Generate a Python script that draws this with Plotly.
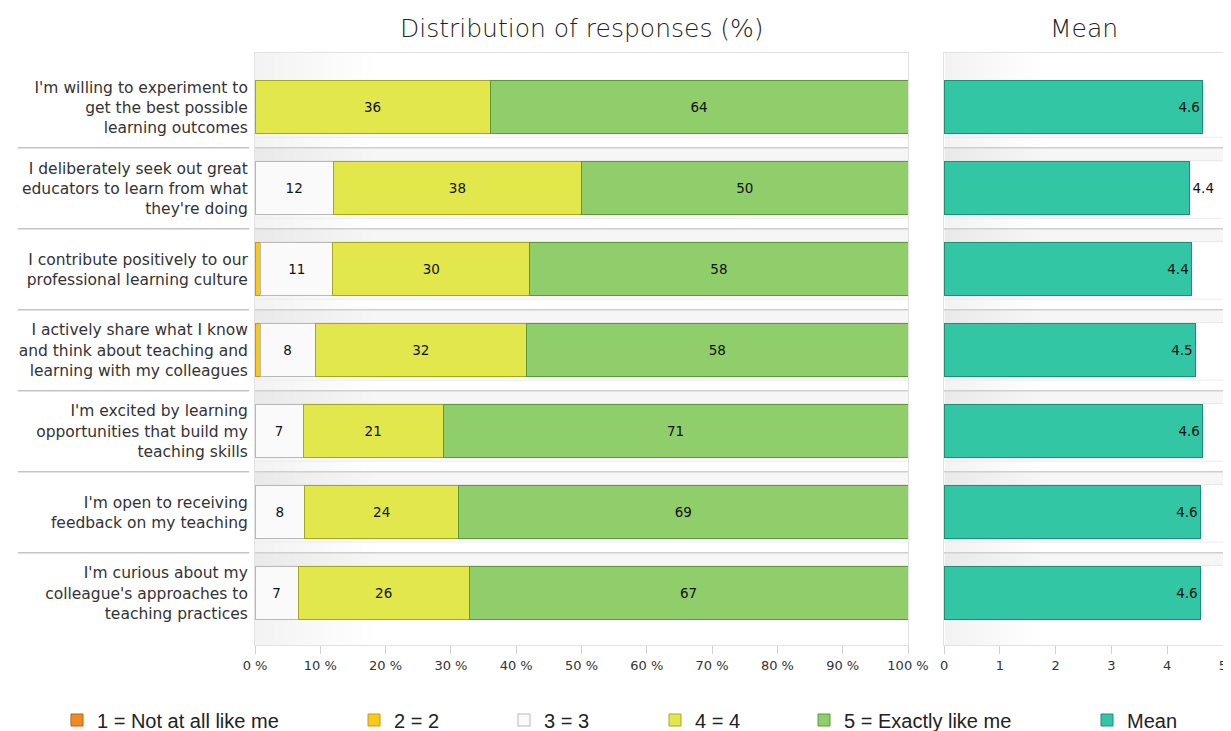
import plotly.graph_objects as go

categories = [
    "I'm willing to experiment to<br>get the best possible<br>learning outcomes",
    "I deliberately seek out great<br>educators to learn from what<br>they're doing",
    "I contribute positively to our<br>professional learning culture",
    "I actively share what I know<br>and think about teaching and<br>learning with my colleagues",
    "I'm excited by learning<br>opportunities that build my<br>teaching skills",
    "I'm open to receiving<br>feedback on my teaching",
    "I'm curious about my<br>colleague's approaches to<br>teaching practices",
]
p1 = [0, 0, 0, 0, 0, 0, 0]
p2 = [0, 0, 0.9, 0.8, 0, 0, 0]
p3 = [0, 12, 11, 8.4, 7.4, 7.6, 6.6]
p4 = [36, 38, 30.2, 32.4, 21.4, 23.6, 26.2]
p5 = [64, 50, 57.9, 58.4, 71.2, 68.8, 67.2]
means = [4.64, 4.40, 4.44, 4.51, 4.64, 4.60, 4.60]
series_names = ["1 = Not at all like me", "2 = 2", "3 = 3", "4 = 4", "5 = Exactly like me"]
x_ticks = [0, 10, 20, 30, 40, 50, 60, 70, 80, 90, 100]
mean_ticks = [0, 1, 2, 3, 4, 5]

fills = ["#f08a24", "#f8c81c", "#fafafa", "#e2e84c", "#8fce6a"]
lines = ["#b8601a", "#c89a10", "#b8b8b8", "#a4a820", "#5a9a3a"]
mean_fill = "#33c6a4"
mean_line = "#1d8f72"

FONT = "DejaVu Sans"
LFONT = "Liberation Sans"
ypos = list(range(len(categories)))

# page body adds an 8px margin at left/top; the figure fills the rest of the 1231x731 view
W, H = 1223, 723
ML, MR, MT, MB = 247, 8, 45, 86
PW = W - ML - MR
PH = H - MT - MB

legend_px = [49, 346, 496, 647, 796, 1079]  # left edge of each legend box (figure px)
legend_names = ["legend", "legend2", "legend3", "legend4", "legend5", "legend6"]

fig = go.Figure()
for k, (name, vals, fc, lc) in enumerate(zip(series_names, [p1, p2, p3, p4, p5], fills, lines)):
    show_text = k >= 2
    fig.add_trace(go.Bar(
        name=name, y=ypos, x=vals, orientation="h",
        marker=dict(color=fc, line=dict(color=lc, width=1)),
        width=0.65,
        text=[f"{v:.0f}" if v > 0 else "" for v in vals] if show_text else None,
        textposition="inside" if show_text else "none",
        insidetextanchor="middle",
        textfont=dict(color="#111111", size=13.5, family=FONT),
        xaxis="x", yaxis="y", legend=legend_names[k],
    ))

mean_pos = ["outside" if m < 4.42 else "inside" for m in means]
fig.add_trace(go.Bar(
    name="Mean", y=ypos, x=means, orientation="h",
    marker=dict(color=mean_fill, line=dict(color=mean_line, width=1)),
    width=0.65,
    text=[f"{m:.1f}" for m in means],
    textposition=mean_pos, insidetextanchor="end",
    textfont=dict(color="#111111", size=13.5, family=FONT),
    cliponaxis=False,
    xaxis="x2", yaxis="y2", legend=legend_names[5],
))

shapes = []
for dom, width in [("x domain", 0.18), ("x2 domain", 0.35)]:
    for k in range(1, 13):
        shapes.append(dict(type="rect", xref=dom, yref="paper", x0=0, x1=width * k / 12,
                           y0=0, y1=1, fillcolor="rgba(0,0,0,0.004)", line=dict(width=0),
                           layer="below"))
for i in range(len(categories) - 1):
    yb = i + 0.5
    for dom, yax in [("x domain", "y"), ("x2 domain", "y2")]:
        shapes.append(dict(type="rect", xref=dom, yref=yax, x0=0, x1=1, y0=yb, y1=yb + 0.16,
                           fillcolor="rgba(0,0,0,0.035)", line=dict(width=0), layer="below"))
        shapes.append(dict(type="line", xref=dom, yref=yax, x0=0, x1=1, y0=yb + 0.16, y1=yb + 0.16,
                           line=dict(color="#e6e6e6", width=1), layer="below"))
        shapes.append(dict(type="line", xref=dom, yref=yax, x0=0, x1=1, y0=yb - 0.13, y1=yb - 0.13,
                           line=dict(color="#ececec", width=1), layer="below"))
        shapes.append(dict(type="line", xref=dom, yref=yax, x0=0, x1=1, y0=yb, y1=yb,
                           line=dict(color="#cfcfcf", width=1.5)))
    shapes.append(dict(type="line", xref="paper", yref="y", x0=-0.245, x1=-0.006, y0=yb, y1=yb,
                       line=dict(color="#c4c4c4", width=1.5)))

legend_y = (MT + PH - 712) / PH
legends = {}
for ln, px in zip(legend_names, legend_px):
    legends[ln] = dict(orientation="h", x=(px - ML) / PW, xanchor="left", y=legend_y,
                       yanchor="middle", font=dict(size=20, family=LFONT, color="#222222"),
                       bgcolor="rgba(0,0,0,0)")

yr = [6.64, -0.67]
fig.update_layout(
    width=W, height=H,
    margin=dict(l=ML, r=MR, t=MT, b=MB, autoexpand=False),
    paper_bgcolor="white", plot_bgcolor="white",
    barmode="stack", bargap=0.35,
    font=dict(family=FONT, color="#222222", size=13),
    showlegend=True,
    xaxis=dict(domain=[0, 0.6746], range=[0, 100], tickvals=x_ticks,
               ticktext=[f"{t} %" for t in x_ticks], ticks="outside", ticklen=8,
               tickcolor="#d0d0d0", showgrid=False, zeroline=False,
               showline=True, linecolor="#e2e2e2", mirror=True,
               tickfont=dict(size=13, color="#333333", family=FONT)),
    yaxis=dict(domain=[0, 1], range=yr, tickvals=ypos, ticktext=categories,
               showgrid=False, zeroline=False, showline=True, linecolor="#e2e2e2",
               mirror=True, ticks="", ticklabelstandoff=3,
               tickfont=dict(size=15.5, color="#333333", family=FONT)),
    xaxis2=dict(domain=[0.7118, 1], range=[0, 5], tickvals=mean_ticks, anchor="y2",
                ticks="outside", ticklen=8, tickcolor="#d0d0d0", showgrid=False,
                zeroline=False, showline=True, linecolor="#e2e2e2", mirror=True,
                tickfont=dict(size=13, color="#333333", family=FONT)),
    yaxis2=dict(domain=[0, 1], range=yr, anchor="x2", showticklabels=False,
                showgrid=False, zeroline=False, showline=True, linecolor="#e2e2e2",
                mirror=True, ticks=""),
    shapes=shapes,
    annotations=[
        dict(text="Distribution of responses (%)", xref="x domain", yref="paper",
             x=0.5, y=1, yshift=25, showarrow=False, xanchor="center", yanchor="middle",
             font=dict(size=25, color="#222222", family=FONT, weight=300)),
        dict(text="Mean", xref="x2 domain", yref="paper",
             x=0.5, y=1, yshift=25, showarrow=False, xanchor="center", yanchor="middle",
             font=dict(size=25, color="#222222", family=FONT, weight=300)),
    ],
    **legends,
)

fig.write_html("out.html")
